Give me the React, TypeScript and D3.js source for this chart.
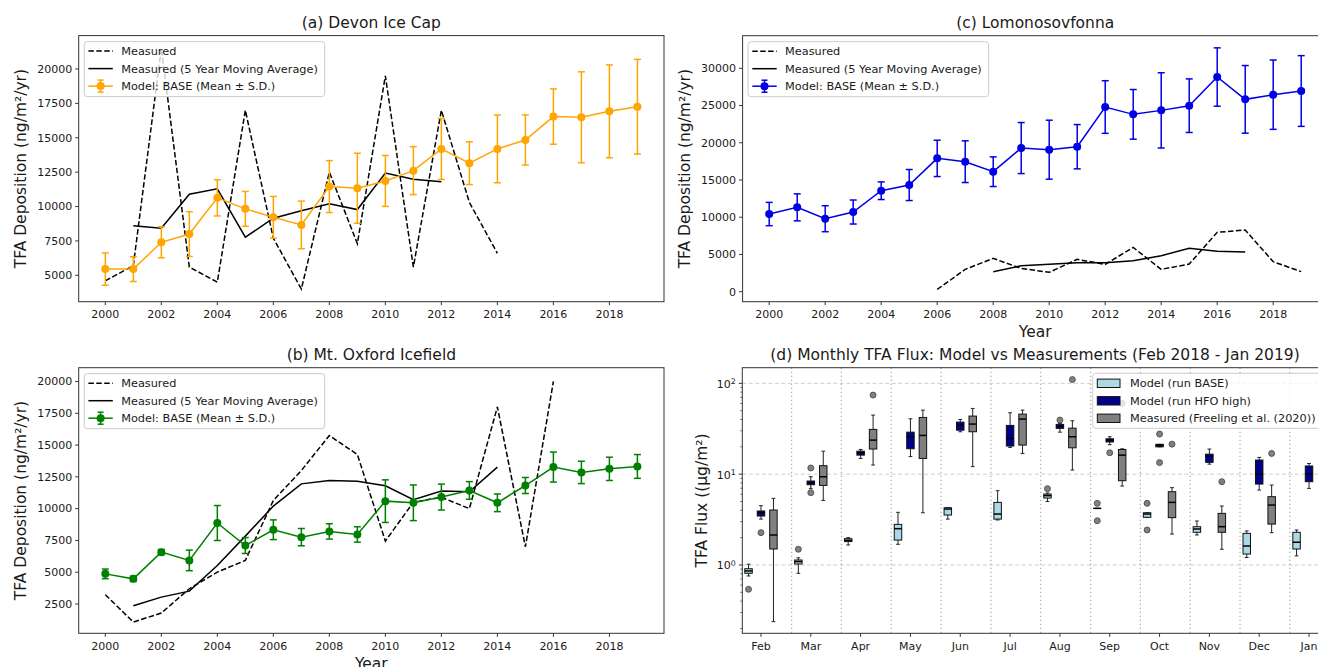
import React from 'react';
import * as d3 from 'd3';

// ---------------- DATA ----------------
const years = [2000, 2001, 2002, 2003, 2004, 2005, 2006, 2007, 2008, 2009, 2010, 2011, 2012, 2013, 2014, 2015, 2016, 2017, 2018, 2019];
const xTickYears = [2000, 2002, 2004, 2006, 2008, 2010, 2012, 2014, 2016, 2018];

// (a) Devon Ice Cap
const aMeasured = [4600, 5700, 21500, 5600, 4500, 17000, 7700, 4000, 12500, 7300, 19500, 5600, 17000, 10300, 6600, null, null, null, null, null];
const aMovingAvg = [null, 8600, 8420, 10900, 11290, 7770, 9150, 9700, 10200, 9780, 12430, 11980, 11800, null, null, null, null, null, null, null];
const aModelMean = [5450, 5450, 7400, 8000, 10630, 9830, 9220, 8660, 11450, 11330, 11860, 12610, 14190, 13150, 14190, 14840, 16540, 16490, 16920, 17260];
const aModelSD = [1175, 900, 1125, 1625, 1315, 1265, 1515, 1735, 1890, 2545, 1850, 1745, 2220, 1550, 2460, 1820, 2010, 3305, 3375, 3440];
const aYTicks = [5000, 7500, 10000, 12500, 15000, 17500, 20000];

// (c) Lomonosovfonna
const cMeasured = [null, null, null, null, null, null, 300, 3000, 4475, 3130, 2600, 4340, 3670, 5950, 3000, 3715, 7970, 8280, 4030, 2690];
const cMovingAvg = [null, null, null, null, null, null, null, null, 2690, 3490, 3670, 3895, 3895, 4160, 4835, 5820, 5420, 5330, null, null];
const cModelMean = [10430, 11325, 9800, 10700, 13560, 14325, 17905, 17460, 16115, 19290, 19070, 19470, 24800, 23815, 24350, 24980, 28830, 25830, 26455, 26950];
const cModelSD = [1565, 1812, 1745, 1612, 1185, 2082, 2440, 2800, 1992, 3425, 3960, 2975, 3535, 3335, 5057, 3600, 3917, 4542, 4657, 4750];
const cYTicks = [0, 5000, 10000, 15000, 20000, 25000, 30000];

// (b) Mt. Oxford Icefield
const bMeasured = [3230, 1080, 1790, 3700, 5010, 5930, 10640, 13000, 15750, 14260, 7450, 10500, 10900, 10000, 18000, 7000, 20000, null, null, null];
const bMovingAvg = [null, 2360, 3040, 3510, 5530, 7840, 10200, 11950, 12210, 12160, 11800, 10700, 11380, 11330, 13270, null, null, null, null, null];
const bModelMean = [4870, 4480, 6580, 5930, 8870, 7100, 8340, 7760, 8210, 7970, 10590, 10460, 10910, 11430, 10460, 11820, 13270, 12850, 13130, 13320];
const bModelSD = [380, 210, 210, 810, 1375, 625, 775, 680, 605, 605, 1675, 1400, 1020, 695, 695, 630, 1180, 880, 915, 935];
const bYTicks = [2500, 5000, 7500, 10000, 12500, 15000, 17500, 20000];

// (d) Monthly TFA flux: [whiskerLow, q1, median, q3, whiskerHigh]
const months = ['Feb', 'Mar', 'Apr', 'May', 'Jun', 'Jul', 'Aug', 'Sep', 'Oct', 'Nov', 'Dec', 'Jan'];
const baseStats = [
  [0.757, 0.81, 0.86, 0.91, 1.02], [0.81, 1.026, 1.09, 1.135, 1.2], [1.66, 1.81, 1.87, 1.95, 2.0],
  [1.69, 1.88, 2.51, 2.8, 3.8], [3.2, 3.55, 4.13, 4.27, 4.3], [3.13, 3.2, 3.64, 4.89, 6.57],
  [5.0, 5.46, 5.8, 6.04, 6.2], [4.2, 4.2, 4.2, 4.2, 4.2], [3.35, 3.35, 3.64, 3.76, 3.76],
  [2.14, 2.29, 2.49, 2.64, 3.05], [1.21, 1.32, 1.62, 2.23, 2.37], [1.26, 1.5, 1.78, 2.29, 2.43],
];
const baseOutliers = [[0.54], [1.49], [], [], [], [], [6.92], [4.77, 3.07], [4.77, 2.43], [], [], []];
const hfoStats = [
  [3.2, 3.46, 3.76, 3.93, 4.5], [6.97, 7.65, 8.03, 8.4, 9.37], [14.9, 16.2, 17.2, 17.9, 18.7],
  [15.6, 19.05, 25.8, 29.0, 40.7], [29.3, 30.5, 34.7, 37.4, 40.0], [19.7, 20.4, 24.7, 34.4, 47.4],
  [29.0, 31.9, 33.8, 35.3, 36.2], [21.1, 22.6, 23.7, 24.5, 25.8], [20.0, 20.0, 20.8, 21.3, 21.3],
  [12.9, 13.5, 15.8, 16.6, 18.9], [6.68, 7.78, 10.0, 14.3, 15.3], [6.97, 8.26, 10.0, 12.3, 13.1],
];
const hfoOutliers = [[2.27], [11.7, 6.25], [], [], [], [], [39.4], [17.2], [27.6, 13.4], [], [], []];
const measStats = [
  [0.238, 1.5, 2.14, 4.03, 5.41], [5.14, 7.52, 9.37, 12.4, 17.9], [12.6, 18.9, 23.7, 31.1, 44.7],
  [3.76, 14.9, 26.7, 42.1, 50.7], [12.1, 29.3, 35.6, 43.6, 52.9], [16.9, 20.9, 40.4, 45.8, 50.7],
  [11.1, 19.5, 25.8, 32.1, 38.7], [7.4, 8.47, 16.2, 18.7, 19.0], [2.19, 3.32, 4.89, 6.41, 7.1],
  [1.49, 2.29, 2.64, 3.7, 4.46], [2.27, 2.82, 4.57, 5.65, 7.59], null,
];
const measOutliers = [[], [], [74.2], [], [], [], [110], [60], [21.4], [8.26], [16.9], []];
const logMajorTicks = [1, 10, 100];
const logTickExp = ['0', '1', '2'];
const logMinorTicks = [0.2, 0.3, 0.4, 0.5, 0.6, 0.7, 0.8, 0.9, 2, 3, 4, 5, 6, 7, 8, 9, 20, 30, 40, 50, 60, 70, 80, 90];

// ---------------- STYLE ----------------
const FONT = "'DejaVu Sans', 'Noto Sans', sans-serif";
const SPINE = '#333';
const TXT = '#1a1a1a';

type LP = {
  left: number; right: number; top: number; bottom: number;
  yDomain: [number, number]; yTicks: number[];
  measured: (number | null)[]; ma: (number | null)[]; mean: number[]; sd: number[];
  color: string; title: string; xLabel: boolean; ylabelX: number;
};

function LinePanel(p: LP) {
  const x = d3.scaleLinear().domain([1999.05, 2019.95]).range([p.left, p.right]);
  const y = d3.scaleLinear().domain(p.yDomain).range([p.bottom, p.top]);
  const line = d3.line<[number, number | null]>()
    .defined(d => d[1] != null)
    .x(d => x(d[0]))
    .y(d => y(d[1] as number));
  const pairs = (arr: (number | null)[]) => years.map((yr, i) => [yr, arr[i]] as [number, number | null]);
  const legX = p.left + 5.5;
  const legY = p.top + 6;
  const rows = [p.top + 15.5, p.top + 33, p.top + 50.5];
  const hx0 = p.left + 9.7, hx1 = p.left + 34.1, tx = p.left + 42.5;
  return (
    <g>
      <text x={(p.left + p.right) / 2} y={p.top - 7.5} textAnchor="middle" fontSize={15.5} fill={TXT}>{p.title}</text>
      {/* measured */}
      <path d={line(pairs(p.measured)) || ''} fill="none" stroke="#000" strokeWidth={1.5} strokeDasharray="5.5,2.4" />
      <path d={line(pairs(p.ma)) || ''} fill="none" stroke="#000" strokeWidth={1.5} />
      {/* model */}
      {years.map((yr, i) => (
        <g key={yr} stroke={p.color} strokeWidth={1.5}>
          <line x1={x(yr)} x2={x(yr)} y1={y(p.mean[i] - p.sd[i])} y2={y(p.mean[i] + p.sd[i])} />
          <line x1={x(yr) - 3.5} x2={x(yr) + 3.5} y1={y(p.mean[i] - p.sd[i])} y2={y(p.mean[i] - p.sd[i])} />
          <line x1={x(yr) - 3.5} x2={x(yr) + 3.5} y1={y(p.mean[i] + p.sd[i])} y2={y(p.mean[i] + p.sd[i])} />
        </g>
      ))}
      <path d={line(pairs(p.mean)) || ''} fill="none" stroke={p.color} strokeWidth={1.5} />
      {years.map((yr, i) => (
        <circle key={yr} cx={x(yr)} cy={y(p.mean[i])} r={4} fill={p.color} />
      ))}
      {/* spines */}
      <rect x={p.left} y={p.top} width={p.right - p.left} height={p.bottom - p.top} fill="none" stroke={SPINE} strokeWidth={1} />
      {/* x ticks */}
      {xTickYears.map(t => (
        <g key={t}>
          <line x1={x(t)} x2={x(t)} y1={p.bottom} y2={p.bottom + 3.5} stroke={SPINE} />
          <text x={x(t)} y={p.bottom + 16.5} textAnchor="middle" fontSize={11} fill={TXT}>{t}</text>
        </g>
      ))}
      {p.yTicks.map(t => (
        <g key={t}>
          <line x1={p.left - 3.5} x2={p.left} y1={y(t)} y2={y(t)} stroke={SPINE} />
          <text x={p.left - 6.5} y={y(t)} dy="0.35em" textAnchor="end" fontSize={11} fill={TXT}>{t}</text>
        </g>
      ))}
      <text transform={`translate(${p.ylabelX},${(p.top + p.bottom) / 2}) rotate(-90)`} textAnchor="middle" dy="0.35em" fontSize={15.5} fill={TXT}>TFA Deposition (ng/m²/yr)</text>
      {p.xLabel && (
        <text x={(p.left + p.right) / 2} y={p.bottom + 35.5} textAnchor="middle" fontSize={15.5} fill={TXT}>Year</text>
      )}
      {/* legend */}
      <rect x={legX} y={legY} width={240.5} height={55} rx={3} fill="#fff" fillOpacity={0.8} stroke="#ccc" strokeWidth={1} />
      <line x1={hx0} x2={hx1} y1={rows[0]} y2={rows[0]} stroke="#000" strokeWidth={1.5} strokeDasharray="5.5,2.4" />
      <line x1={hx0} x2={hx1} y1={rows[1]} y2={rows[1]} stroke="#000" strokeWidth={1.5} />
      <g stroke={p.color} strokeWidth={1.5}>
        <line x1={hx0} x2={hx1} y1={rows[2]} y2={rows[2]} />
        <line x1={(hx0 + hx1) / 2} x2={(hx0 + hx1) / 2} y1={rows[2] - 6} y2={rows[2] + 6} />
        <line x1={(hx0 + hx1) / 2 - 3} x2={(hx0 + hx1) / 2 + 3} y1={rows[2] - 6} y2={rows[2] - 6} />
        <line x1={(hx0 + hx1) / 2 - 3} x2={(hx0 + hx1) / 2 + 3} y1={rows[2] + 6} y2={rows[2] + 6} />
      </g>
      <circle cx={(hx0 + hx1) / 2} cy={rows[2]} r={4} fill={p.color} />
      <text x={tx} y={rows[0]} dy="0.35em" fontSize={11.3} fill={TXT}>Measured</text>
      <text x={tx} y={rows[1]} dy="0.35em" fontSize={11.3} fill={TXT}>Measured (5 Year Moving Average)</text>
      <text x={tx} y={rows[2]} dy="0.35em" fontSize={11.3} fill={TXT}>Model: BASE (Mean ± S.D.)</text>
    </g>
  );
}

function BoxPanel() {
  const left = 742.3, right = 1327.7, top = 367.7, bottom = 633.3;
  const x = d3.scaleLinear().domain([-0.375, 11.375]).range([left, right]);
  const y = d3.scaleLog().domain([0.177, 148.6]).range([bottom, top]);
  const bw = x(0.15) - x(0);
  const series = [
    { stats: baseStats, out: baseOutliers, off: -0.25, fill: '#ADD8E6' },
    { stats: hfoStats, out: hfoOutliers, off: 0, fill: '#00008B' },
    { stats: measStats, out: measOutliers, off: 0.25, fill: '#808080' },
  ];
  const legRows = [383.3, 400.8, 418.3];
  const legLabels = ['Model (run BASE)', 'Model (run HFO high)', 'Measured (Freeling et al. (2020))'];
  return (
    <g>
      <text x={(left + right) / 2} y={top - 8} textAnchor="middle" fontSize={15.5} fill={TXT}>(d) Monthly TFA Flux: Model vs Measurements (Feb 2018 - Jan 2019)</text>
      {logMajorTicks.map(t => (
        <line key={t} x1={left} x2={right} y1={y(t)} y2={y(t)} stroke="#c8c8c8" strokeWidth={0.9} strokeDasharray="4,2.5" />
      ))}
      {months.slice(0, 11).map((m, i) => (
        <line key={m} x1={x(i + 0.615)} x2={x(i + 0.615)} y1={top} y2={bottom} stroke="#aaa" strokeWidth={1.2} strokeDasharray="1.3,2.7" />
      ))}
      {series.map((s, si) => (
        <g key={si}>
          {months.map((m, i) => {
            const st = s.stats[i];
            if (!st) return null;
            const cx = x(i + s.off);
            const [lo, q1, med, q3, hi] = st;
            return (
              <g key={m}>
                <line x1={cx} x2={cx} y1={y(lo)} y2={y(q1)} stroke="#222" strokeWidth={1} />
                <line x1={cx} x2={cx} y1={y(q3)} y2={y(hi)} stroke="#222" strokeWidth={1} />
                <line x1={cx - bw / 4} x2={cx + bw / 4} y1={y(lo)} y2={y(lo)} stroke="#222" strokeWidth={1} />
                <line x1={cx - bw / 4} x2={cx + bw / 4} y1={y(hi)} y2={y(hi)} stroke="#222" strokeWidth={1} />
                <rect x={cx - bw / 2} y={y(q3)} width={bw} height={Math.max(0.01, y(q1) - y(q3))} fill={s.fill} stroke="#111" strokeWidth={1} />
                <line x1={cx - bw / 2} x2={cx + bw / 2} y1={y(med)} y2={y(med)} stroke="#000" strokeWidth={1.5} />
              </g>
            );
          })}
          {months.map((m, i) => s.out[i].map((v, k) => (
            <circle key={m + k} cx={x(i + s.off)} cy={y(v)} r={3} fill="#808080" stroke="#444" strokeWidth={0.8} />
          )))}
        </g>
      ))}
      <rect x={left} y={top} width={right - left} height={bottom - top} fill="none" stroke={SPINE} strokeWidth={1} />
      {months.map((m, i) => (
        <g key={m}>
          <line x1={x(i)} x2={x(i)} y1={bottom} y2={bottom + 3.5} stroke={SPINE} />
          <text x={x(i)} y={bottom + 16.5} textAnchor="middle" fontSize={11} fill={TXT}>{m}</text>
        </g>
      ))}
      {logMinorTicks.map(t => (
        <line key={t} x1={left - 2} x2={left} y1={y(t)} y2={y(t)} stroke={SPINE} strokeWidth={0.7} />
      ))}
      {logMajorTicks.map((t, i) => (
        <g key={t}>
          <line x1={left - 3.5} x2={left} y1={y(t)} y2={y(t)} stroke={SPINE} />
          <text x={left - 6.5} y={y(t)} dy="0.4em" textAnchor="end" fontSize={11} fill={TXT}>
            10<tspan dy="-0.45em" fontSize={7.8}>{logTickExp[i]}</tspan>
          </text>
        </g>
      ))}
      <text transform={`translate(${701.5},${(top + bottom) / 2}) rotate(-90)`} textAnchor="middle" dy="0.35em" fontSize={15.5} fill={TXT}>TFA Flux ((µg/m²)</text>
      {/* legend */}
      <rect x={1092.7} y={373.3} width={232} height={55} rx={3} fill="#fff" fillOpacity={0.8} stroke="#ccc" strokeWidth={1} />
      {series.map((s, i) => (
        <g key={i}>
          <rect x={1097.3} y={legRows[i] - 4.2} width={22.7} height={8.4} fill={s.fill} stroke="#111" strokeWidth={1} />
          <text x={1130} y={legRows[i]} dy="0.35em" fontSize={11.3} fill={TXT}>{legLabels[i]}</text>
        </g>
      ))}
    </g>
  );
}

export default function App() {
  return (
    <div style={{ position: 'fixed', left: 0, top: 0, width: 1318, height: 667, overflow: 'hidden', background: '#fff' }}>
      <svg width={1318} height={667} style={{ display: 'block', fontFamily: FONT }}>
        <rect x={0} y={0} width={1318} height={667} fill="#fff" />
        <LinePanel left={78.7} right={664} top={35.6} bottom={301.7} yDomain={[3081, 22427]} yTicks={aYTicks}
          measured={aMeasured} ma={aMovingAvg} mean={aModelMean} sd={aModelSD} color="#FFA500"
          title="(a) Devon Ice Cap" xLabel={false} ylabelX={21} />
        <LinePanel left={742.6} right={1327.8} top={35.7} bottom={301.7} yDomain={[-1343, 34378]} yTicks={cYTicks}
          measured={cMeasured} ma={cMovingAvg} mean={cModelMean} sd={cModelSD} color="#0000E6"
          title="(c) Lomonosovfonna" xLabel={true} ylabelX={684.5} />
        <LinePanel left={78.7} right={664} top={367.7} bottom={633.3} yDomain={[196, 21085]} yTicks={bYTicks}
          measured={bMeasured} ma={bMovingAvg} mean={bModelMean} sd={bModelSD} color="#008000"
          title="(b) Mt. Oxford Icefield" xLabel={true} ylabelX={21} />
        <BoxPanel />
      </svg>
    </div>
  );
}
